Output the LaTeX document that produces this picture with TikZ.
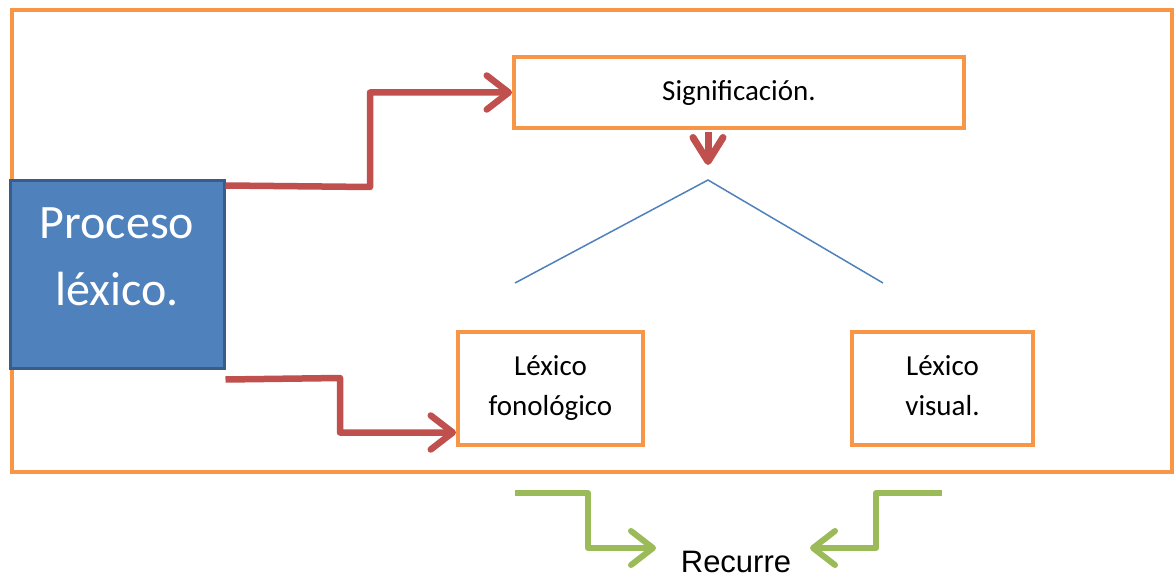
\documentclass[tikz,border=0pt]{standalone}
\usepackage{fontspec}
\setmainfont{Carlito}
\newfontfamily\arialfont{Liberation Sans}
\usetikzlibrary{arrows.meta,calc}
\definecolor{orng}{HTML}{F79646}
\definecolor{blfill}{HTML}{4F81BD}
\definecolor{bldraw}{HTML}{385D8A}
\definecolor{redar}{HTML}{C0504D}
\definecolor{grnar}{HTML}{9BBB59}
\tikzset{
  obox/.style={draw=orng, line width=4pt, fill=white, align=center, inner sep=0pt, font=\fontsize{29}{40}\selectfont},
  redarrow/.style={draw=redar, line width=6.5pt, line join=round,
    -{Straight Barb[length=22pt,width=34pt,line width=6.5pt,round]}},
  grnarrow/.style={draw=grnar, line width=6pt, line join=round,
    -{Straight Barb[length=22pt,width=34pt,line width=6pt,round]}},
}
\begin{document}
\begin{tikzpicture}[x=1pt,y=-1pt]
\useasboundingbox (0,0) rectangle (1176,578);
\fill[white] (0,0) rectangle (1176,578);
% outer frame
\node[draw=orng, line width=4pt, minimum width=1160pt, minimum height=462pt, inner sep=0pt, anchor=north west] (frame) at (10,8) {};
% boxes
\node[obox, minimum width=450pt, minimum height=71pt] (sig) at (739,92.5) {Significación.};
\node[obox, minimum width=185pt, minimum height=113pt] (fon) at (550.5,388.5) {Léxico\\fonológico};
\node[obox, minimum width=181pt, minimum height=113pt] (vis) at (942.5,388.5) {Léxico\\visual.\vphantom{g}};
\node[draw=bldraw, fill=blfill, line width=3pt, minimum width=214pt, minimum height=188pt, inner sep=0pt] (proc) at (117,274) {};
\node[text=white, align=center, inner sep=0pt, font=\fontsize{48}{67}\selectfont] (proct) at (117,257) {Proceso\\léxico.};
% red arrows
\coordinate (r1) at ($(proc.north east)+(0,7)$);
\draw[redarrow] (r1) -- (370,187) |- (sig.west);
\coordinate (r2) at ($(proc.south east)+(0,10)$);
\draw[redarrow] (r2) -- (340,378) |- ($(fon.west)+(0,44)$);
\draw[draw=redar, line width=7pt, -{Straight Barb[length=24pt,width=30pt,line width=7pt,round]}] (sig.south) ++(-31,2) coordinate (d0) -- ++(0,33) coordinate (d1);
% blue lines
\coordinate (apex) at (708,180);
\draw[draw=blfill, line width=1.5pt] (515,283) coordinate (bl) -- (apex) -- (883,283) coordinate (br);
% Recurre
\node[font=\arialfont\fontsize{31}{34}\selectfont, inner sep=0pt, anchor=base] (rec) at (736,572) {Recurre};
\coordinate (g1) at (515,493);
\coordinate (g2) at (942,493);
\draw[grnarrow] (g1) -- (588,493) |- ($(rec.base)+(-80,-24)$);
\draw[grnarrow] (g2) -- (876,493) |- ($(rec.base)+(74,-24)$);
\end{tikzpicture}
\end{document}
